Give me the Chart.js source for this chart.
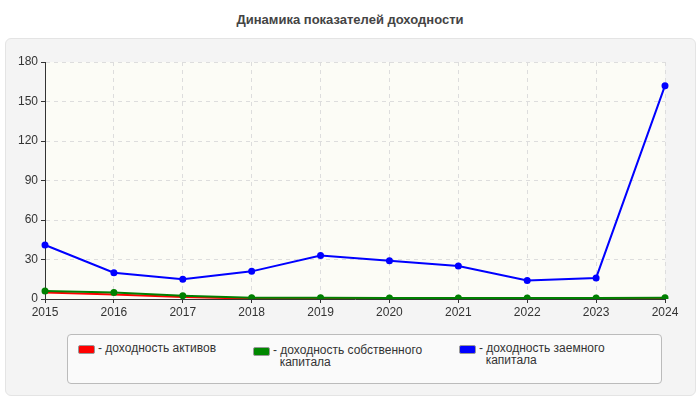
<!DOCTYPE html>
<html>
<head>
<meta charset="utf-8">
<script src="https://cdn.jsdelivr.net/npm/chart.js@4"></script>
<style>
   body { margin: 0; width: 700px; height: 400px; background: #fff; font-family: "Liberation Sans", Arial, sans-serif; position: relative; overflow: hidden; }
   #title { position: absolute; top: 12px; width: 700px; text-align: center; font-size: 13px; font-weight: bold; color: #444; }
   #panel { position: absolute; left: 5px; top: 38px; width: 689px; height: 356px; background: #f4f4f4; border: 1px solid #e4e4e4; border-radius: 6px; }
   #wrap { position: absolute; left: 0; top: 40px; width: 700px; height: 290px; }
   #legend { position: absolute; left: 67px; top: 334px; width: 593px; height: 48px; border: 1px solid #bbb; border-radius: 4px; background: #fafafa; font-size: 12px; color: #333; }
   .item { position: absolute; top: 7px; line-height: 12px; }
   .sw { position: absolute; top: 3px; width: 15px; height: 7px; border-radius: 2px; border: 1px solid #999; }
   .txt { position: absolute; left: 20px; white-space: nowrap; }
</style>
</head>
<body>
<div id="title">Динамика показателей доходности</div>
<div id="panel"></div>
<div id="wrap"><canvas id="chart"></canvas></div>
<div id="legend">
   <div class="item" style="left:10px"><div class="sw" style="background:#f00"></div><div class="txt">- доходность активов</div></div>
   <div class="item" style="left:185px;top:9px"><div class="sw" style="background:#080"></div><div class="txt">- доходность собственного<br>&nbsp;&nbsp;капитала</div></div>
   <div class="item" style="left:391px;top:7px"><div class="sw" style="background:#00f"></div><div class="txt">- доходность заемного<br>&nbsp;&nbsp;капитала</div></div>
</div>
<script>
// Data
const years = ["2015", "2016", "2017", "2018", "2019", "2020", "2021", "2022", "2023", "2024"];
const assetsReturn = [5, 3.5, 1.5, 0.3, 0.3, 0.3, 0.3, 0.3, 0.3, 0.5];
const equityReturn = [6, 5, 2.5, 1, 1, 0.8, 0.8, 0.8, 0.8, 1];
const debtReturn = [41, 20, 15, 21, 33, 29, 25, 14, 16, 162];
const yTicks = [0, 30, 60, 90, 120, 150, 180];

const bgPlugin = {
   id: "plotBg",
   beforeDraw(chart) {
      const a = chart.chartArea, c = chart.ctx;
      c.save();
      c.fillStyle = "#fcfcf6";
      c.fillRect(a.left, a.top, a.right - a.left, a.bottom - a.top);
      c.restore();
   }
};

function line(label, data, color, pts) {
   return {
      label: label,
      data: data,
      borderColor: color,
      backgroundColor: color,
      borderWidth: 2,
      pointRadius: pts ? 2.5 : 0,
      pointHoverRadius: 2.5,
      tension: 0,
   };
}

const tickFont = { size: 12, family: "Liberation Sans" };

new Chart(document.getElementById("chart").getContext("2d"), {
   type: "line",
   data: {
      labels: years,
      datasets: [
         line("доходность заемного капитала", debtReturn, "#0000ff", true),
         line("доходность собственного капитала", equityReturn, "#008000", true),
         line("доходность активов", assetsReturn, "#ff0000", false),
      ],
   },
   options: {
      responsive: true,
      maintainAspectRatio: false,
      animation: false,
      layout: { padding: { left: 0, right: 35, top: 22, bottom: 0 } },
      plugins: { legend: { display: false }, tooltip: { enabled: false } },
      scales: {
         x: {
            offset: false,
            grid: { color: "#ddd", tickLength: 4, tickColor: "#333" },
            border: { color: "#333", dash: [4, 4] },
            ticks: { color: "#333", font: tickFont, padding: 2 },
            afterFit: (s) => { s.height = 31; },
         },
         y: {
            min: 0,
            max: 180,
            afterBuildTicks: (s) => { s.ticks = yTicks.map((v) => ({ value: v })); },
            grid: { color: "#ddd", tickLength: 4, tickColor: "#333" },
            border: { color: "#333", dash: [4, 4] },
            ticks: { color: "#333", font: tickFont, padding: 3 },
            afterFit: (s) => { s.width = 45; },
         },
      },
   },
   plugins: [bgPlugin],
});
</script>
</body>
</html>
